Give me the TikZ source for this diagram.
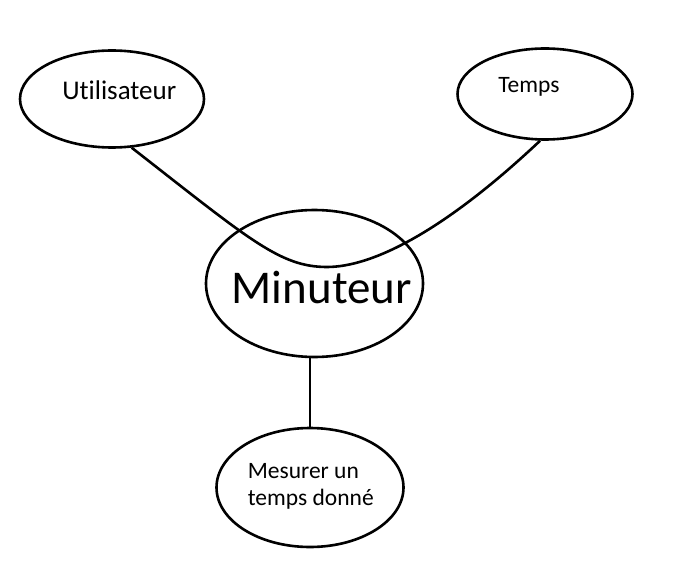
\documentclass[tikz,border=0pt]{standalone}
\usepackage{fontspec}
\setmainfont[Ligatures=NoCommon]{Carlito}
\usetikzlibrary{shapes.geometric}
\begin{document}
\begin{tikzpicture}[x=1pt,y=-1pt,line width=2.6pt,
    bulle/.style={draw,ellipse,inner sep=0pt},
    mot/.style={inner sep=0pt,anchor=base west}]
    \useasboundingbox (0,0) rectangle (700,585);
    %% bubbles
    \node[bulle,minimum width=184pt,minimum height=97pt] (util) at (112,99) {};
    \node[bulle,minimum width=175pt,minimum height=91pt] (temps) at (545,94) {};
    \node[bulle,minimum width=217pt,minimum height=147pt] (mini) at (314.5,283.5) {};
    \node[bulle,minimum width=187pt,minimum height=119pt] (mesure) at (310,487.5) {};
    %% texts
    \node[mot,font=\fontsize{27}{32}\selectfont] (utiltxt) at (61,100) {Utilisateur};
    \node[mot,font=\fontsize{23.5}{28}\selectfont] (tempstxt) at (497,92.3) {Temps};
    \node[mot,font=\fontsize{47}{56}\selectfont] (minitxt) at (230.5,303.3) {Minuteur};
    \node[mot,align=left,font=\fontsize{23.5}{26.7}\selectfont] (mesuretxt) at (246.5,505) {Mesurer un\\temps donné};
    %% horns
    \coordinate (creux) at (327,267);
    \draw (util.-68) .. controls (250,240) and (280,267) .. (creux)
        .. controls (370,267) and (440,235) .. (temps.-96);
    \draw (mini.south -| mesure.north) -- (mesure.north);
\end{tikzpicture}
\end{document}
